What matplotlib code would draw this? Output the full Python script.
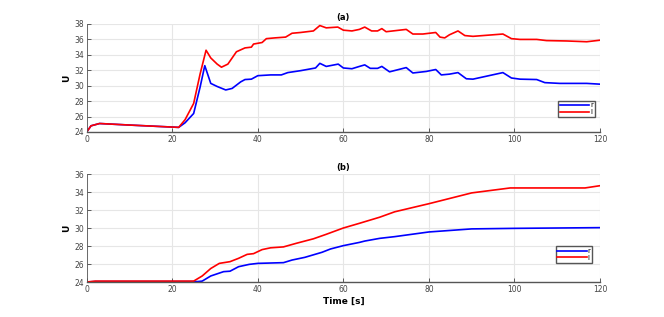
import matplotlib
matplotlib.use("Agg")
from matplotlib import pyplot as plt

# (a) panel data
ta_r = [0, 1, 3, 10, 21.5, 23, 25, 26.5, 27.9, 29, 30.5, 31.5, 33, 35, 37, 38.5, 39, 41, 42,
        44, 46.5, 48, 50, 53, 54.5, 56, 58.7, 60, 62, 63.75, 65, 66.6, 68, 69, 70, 74.7,
        76.25, 78.6, 81.6, 82.6, 83.7, 84.8, 86.8, 88.4, 90.3, 97.3, 99.3, 101.3, 105.2,
        107.5, 112.2, 116.9, 120]
ua_r = [24, 24.8, 25.1, 24.9, 24.6, 25.6, 27.7, 31.5, 34.6, 33.6, 32.8, 32.4, 32.8, 34.4, 34.9,
        35.0, 35.4, 35.6, 36.1, 36.2, 36.3, 36.8, 36.9, 37.1, 37.8, 37.5, 37.6, 37.2, 37.1,
        37.3, 37.6, 37.1, 37.1, 37.4, 37.0, 37.3, 36.7, 36.7, 36.9, 36.3, 36.2, 36.6, 37.1,
        36.5, 36.4, 36.7, 36.1, 36.0, 36.0, 35.85, 35.8, 35.7, 35.9]
ta_b = [0, 1, 3, 10, 21.5, 23, 25, 26.5, 27.6, 29, 30.5, 32.5, 34, 36, 37, 38.5, 40, 43, 45.5,
        47, 50, 53.5, 54.5, 56, 58.8, 60, 62, 63.75, 65, 66.3, 68, 69, 70.8, 74.7, 76.25, 79.4,
        81.6, 82.9, 84.8, 86.8, 88.75, 90.3, 97.3, 99.3, 101.3, 105.2, 107.1, 110.6, 116.9, 120]
ua_b = [24, 24.8, 25.1, 24.9, 24.6, 25.2, 26.4, 29.8, 32.6, 30.3, 29.9, 29.45, 29.65, 30.5, 30.8,
        30.85, 31.3, 31.4, 31.4, 31.7, 31.95, 32.3, 32.9, 32.5, 32.8, 32.3, 32.2, 32.5, 32.7,
        32.25, 32.25, 32.5, 31.8, 32.35, 31.65, 31.85, 32.1, 31.4, 31.5, 31.7, 30.9, 30.85,
        31.7, 31.0, 30.85, 30.8, 30.4, 30.3, 30.3, 30.2]

# (b) panel data
tb_r = [0, 2, 25, 27, 29, 31, 33.5, 35.5, 37.5, 39, 41, 43, 46, 49, 53, 56, 60, 63.75, 68.5,
        72, 80, 90, 99, 100, 116.5, 120]
ub_r = [24, 24.1, 24.1, 24.67, 25.5, 26.07, 26.26, 26.63, 27.07, 27.15, 27.6, 27.8, 27.9, 28.3,
        28.8, 29.3, 30.0, 30.52, 31.2, 31.8, 32.7, 33.9, 34.45, 34.45, 34.45, 34.7]
tb_b = [0, 2, 26, 27, 29, 32, 33.5, 35.5, 38, 40, 46, 48, 51, 55, 57, 60, 63.75, 65, 68.5, 72,
        80, 90, 100, 120]
ub_b = [24, 24.05, 24.05, 24.1, 24.67, 25.15, 25.2, 25.7, 25.96, 26.07, 26.15, 26.44, 26.74,
        27.3, 27.67, 28.04, 28.4, 28.55, 28.85, 29.04, 29.56, 29.9, 29.96, 30.04]

plt.rcParams['font.family'] = ['DejaVu Sans']
fig = plt.figure(figsize=(6.64, 3.17), dpi=100)

def style(ax, ylim, yticks):
    ax.set_xlim(0, 120)
    ax.set_ylim(*ylim)
    ax.set_xticks(range(0, 121, 20))
    ax.set_yticks(yticks)
    ax.grid(True, color="#e6e6e6", lw=0.8)
    ax.set_axisbelow(True)
    for s in ["top", "right"]:
        ax.spines[s].set_visible(False)
    ax.spines["left"].set_color("#555555")
    ax.spines["bottom"].set_color("#555555")
    ax.spines["left"].set_linewidth(0.6)
    ax.spines["bottom"].set_linewidth(1.0)
    ax.tick_params(direction="in", length=3, width=0.6, labelsize=5.5,
                   colors="#444444", pad=2)
    ax.set_ylabel("U", fontsize=6.5, fontweight="bold", labelpad=2)

leg_kw = dict(loc="lower right", fontsize=5, handlelength=4.2, fancybox=False,
              edgecolor="#555555", framealpha=1, borderpad=0.25, labelspacing=0.1,
              handletextpad=0.15, borderaxespad=0)

ax1 = fig.add_axes([0.1306, 0.5836, 0.773, 0.3407])
ax1.plot(ta_b, ua_b, color="blue", lw=1.2, label="r")
ax1.plot(ta_r, ua_r, color="red", lw=1.2, label="l")
style(ax1, (24, 38), range(24, 39, 2))
ax1.set_title("(a)", fontsize=6, fontweight="bold", pad=3)
ax1.legend(bbox_to_anchor=(0.99, 0.14), **leg_kw)

ax2 = fig.add_axes([0.1306, 0.1104, 0.773, 0.3407])
ax2.plot(tb_b, ub_b, color="blue", lw=1.2, label="r")
ax2.plot(tb_r, ub_r, color="red", lw=1.2, label="l")
style(ax2, (24, 36), range(24, 37, 2))
ax2.set_title("(b)", fontsize=6, fontweight="bold", pad=3)
ax2.set_xlabel("Time [s]", fontsize=6.5, fontweight="bold", labelpad=2)
ax2.legend(bbox_to_anchor=(0.985, 0.18), **leg_kw)

plt.savefig("out.png", dpi=100)
